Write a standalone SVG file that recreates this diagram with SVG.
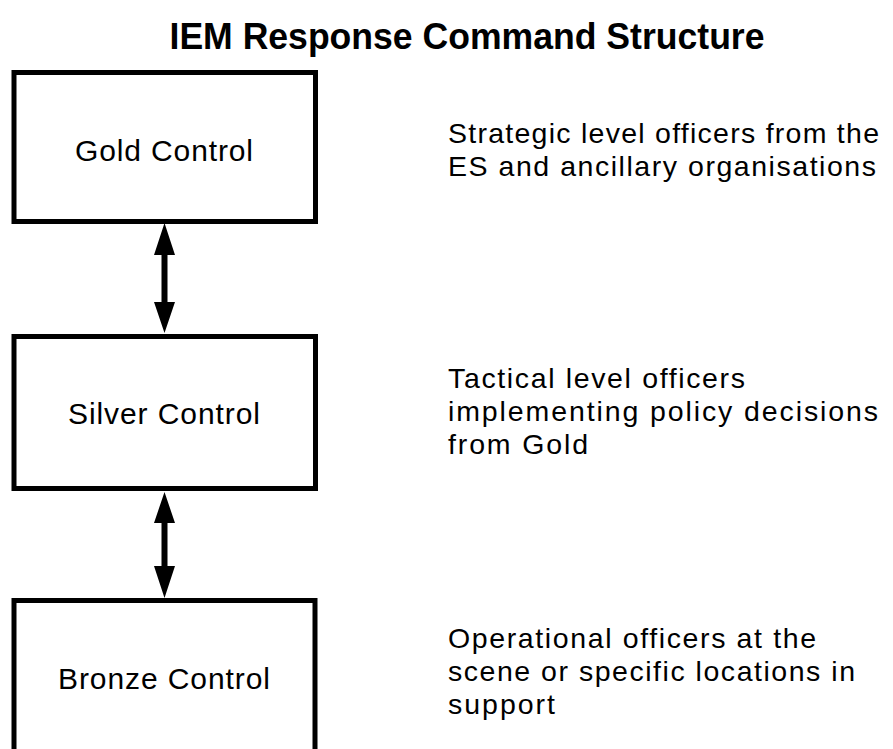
<svg xmlns="http://www.w3.org/2000/svg" width="893" height="749" viewBox="0 0 893 749">
<style>
  .box { fill: #ffffff; stroke: #000000; stroke-width: 5; }
  .label { font-family: "Liberation Sans", Arial, sans-serif; font-size: 30px; fill: #000000; }
  .desc { font-family: "Liberation Sans", Arial, sans-serif; font-size: 28.5px; fill: #000000; }
  .title { font-family: "Liberation Sans", Arial, sans-serif; font-size: 36px; font-weight: bold; fill: #000000; }
  .conn { fill: #000000; stroke: none; }
</style>
<rect x="0" y="0" width="893" height="749" fill="#ffffff"/>
<text class="title" x="467" y="49" text-anchor="middle" textLength="595" lengthAdjust="spacingAndGlyphs">IEM Response Command Structure</text>
<g id="gold">
  <rect class="box" x="14" y="72.5" width="301.5" height="149"/>
  <text class="label" x="75" y="161" textLength="178" lengthAdjust="spacing">Gold Control</text>
</g>
<g id="silver">
  <rect class="box" x="14" y="336.5" width="301.5" height="152"/>
  <text class="label" x="68" y="424" textLength="192" lengthAdjust="spacing">Silver Control</text>
</g>
<g id="bronze">
  <rect class="box" x="14" y="600.5" width="301" height="200"/>
  <text class="label" x="58" y="689" textLength="212" lengthAdjust="spacing">Bronze Control</text>
</g>
<g id="gold-desc">
  <text class="desc" x="448" y="143" textLength="431" lengthAdjust="spacing">Strategic level officers from the</text>
  <text class="desc" x="448" y="176" textLength="428" lengthAdjust="spacing">ES and ancillary organisations</text>
</g>
<g id="silver-desc">
  <text class="desc" x="448" y="388" textLength="297" lengthAdjust="spacing">Tactical level officers</text>
  <text class="desc" x="448" y="421" textLength="430" lengthAdjust="spacing">implementing policy decisions</text>
  <text class="desc" x="448" y="454" textLength="140" lengthAdjust="spacing">from Gold</text>
</g>
<g id="bronze-desc">
  <text class="desc" x="448" y="648" textLength="368" lengthAdjust="spacing">Operational officers at the</text>
  <text class="desc" x="448" y="681" textLength="407" lengthAdjust="spacing">scene or specific locations in</text>
  <text class="desc" x="448" y="714" textLength="107" lengthAdjust="spacing">support</text>
</g>
<g id="connectors">
  <path class="conn" d="M164.5,223 L175,255 L167.5,255 L167.5,302 L175,302 L164.5,333 L154,302 L161.5,302 L161.5,255 L154,255 Z"/>
  <path class="conn" d="M164.5,492 L175,523 L167.5,523 L167.5,566 L175,566 L164.5,598 L154,566 L161.5,566 L161.5,523 L154,523 Z"/>
</g>
</svg>
